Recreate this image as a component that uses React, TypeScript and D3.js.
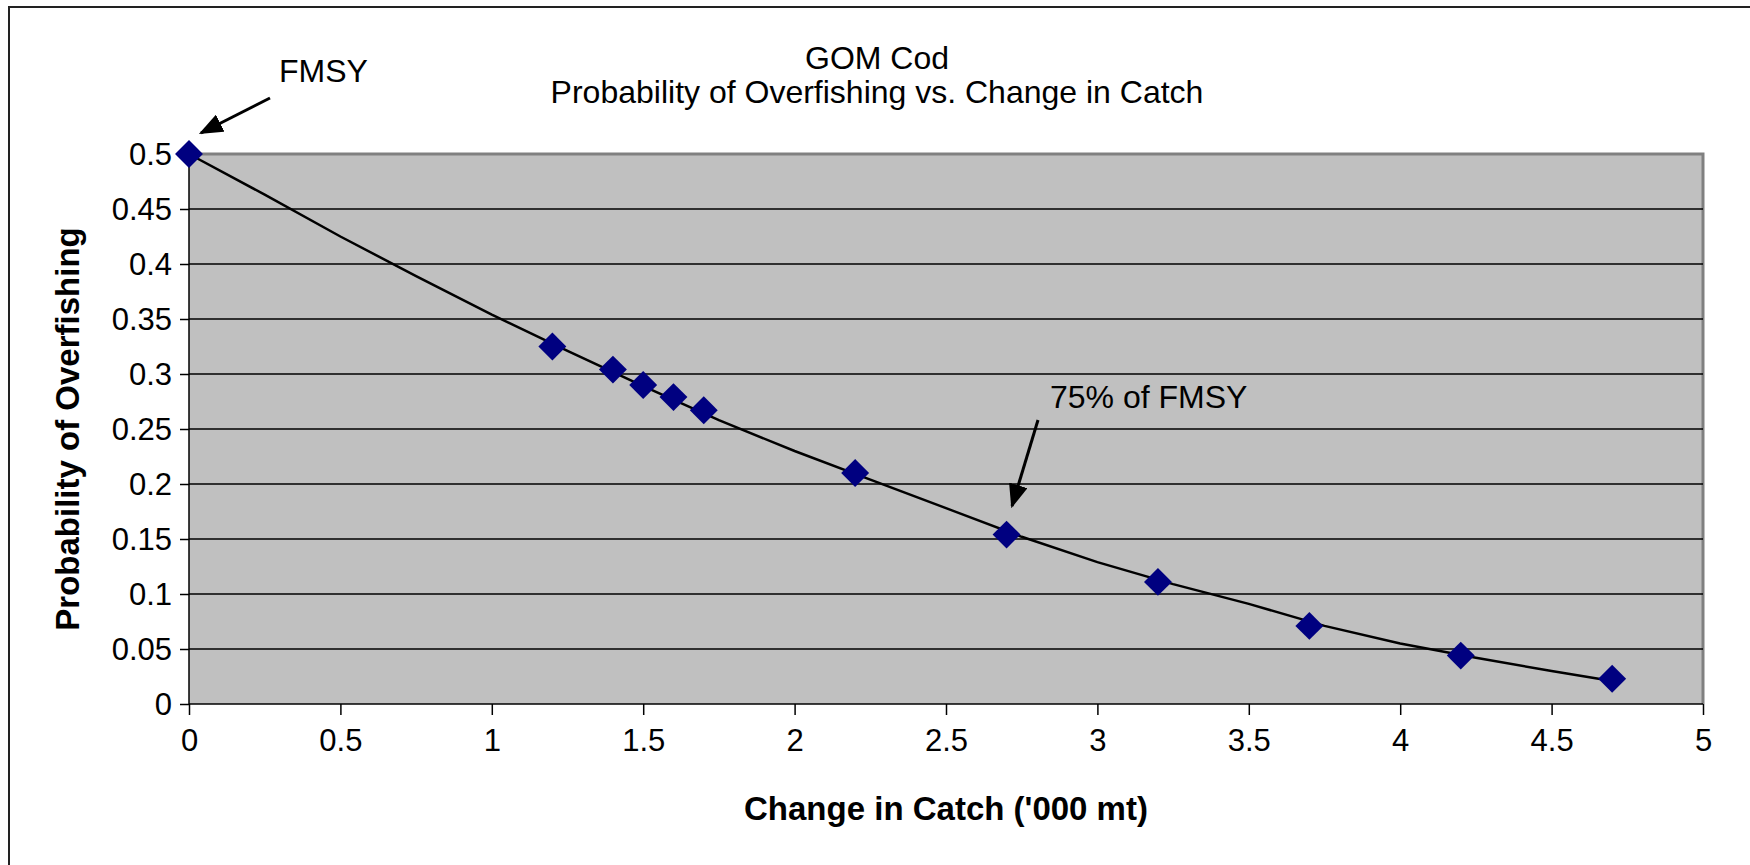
import React, { useEffect, useRef } from "react";
import * as d3 from "d3";

// scenario points (marker series)
const catchChange = [0, 1.2, 1.4, 1.5, 1.6, 1.7, 2.2, 2.7, 3.2, 3.7, 4.2, 4.7];
const probOverfish = [0.5, 0.325, 0.304, 0.29, 0.279, 0.267, 0.21, 0.154, 0.111, 0.071, 0.044, 0.023];

// fitted curve
const curveX = [0, 0.25, 0.5, 0.75, 1.0, 1.25, 1.5, 1.75, 2.0, 2.25, 2.5, 2.75, 3.0, 3.25, 3.5, 3.75, 4.0, 4.25, 4.5, 4.7];
const curveY = [0.5, 0.463, 0.425, 0.389, 0.354, 0.321, 0.289, 0.258, 0.23, 0.204, 0.178, 0.152, 0.129, 0.109, 0.091, 0.071, 0.055, 0.042, 0.03, 0.021];

const xTicks = [0, 0.5, 1, 1.5, 2, 2.5, 3, 3.5, 4, 4.5, 5];
const yTicks = [0, 0.05, 0.1, 0.15, 0.2, 0.25, 0.3, 0.35, 0.4, 0.45, 0.5];

const titleLines = ["GOM Cod", "Probability of Overfishing vs. Change in Catch"];
const xTitle = "Change in Catch ('000 mt)";
const yTitle = "Probability of Overfishing";

const FONT = "'Liberation Sans', Arial, sans-serif";

export default function App() {
  const ref = useRef<SVGSVGElement>(null);

  useEffect(() => {
    const width = 1750;
    const height = 865;
    const margin = { top: 154, right: 47, bottom: 161, left: 189 };
    const svg = d3.select(ref.current!);
    svg.selectAll("*").remove();

    // outer chart frame (runs off the right/bottom edge)
    svg.append("rect")
      .attr("x", 9).attr("y", 7)
      .attr("width", 2000).attr("height", 2000)
      .attr("fill", "#fff")
      .attr("stroke", "#222")
      .attr("stroke-width", 2);

    const x = d3.scaleLinear().domain([0, 5]).range([margin.left, width - margin.right]);
    const y = d3.scaleLinear().domain([0, 0.5]).range([height - margin.bottom, margin.top]);

    const [x0, x1] = x.range();
    const [y0, y1] = y.range();

    // plot area
    svg.append("rect")
      .attr("x", x0).attr("y", y1)
      .attr("width", x1 - x0).attr("height", y0 - y1)
      .attr("fill", "#c0c0c0");
    svg.append("path")
      .attr("d", `M${x0},${y1}H${x1}V${y0}`)
      .attr("fill", "none")
      .attr("stroke", "#808080")
      .attr("stroke-width", 3);

    // gridlines
    svg.append("g")
      .selectAll("line")
      .data(yTicks.filter(t => t > 0 && t < 0.5))
      .enter().append("line")
      .attr("x1", x0).attr("x2", x1)
      .attr("y1", d => y(d)).attr("y2", d => y(d))
      .attr("stroke", "#000")
      .attr("stroke-width", 1.5);

    // y axis
    const yAxis = svg.append("g")
      .attr("transform", `translate(${x0},0)`)
      .call(d3.axisLeft(y).tickValues(yTicks).tickSize(9).tickPadding(8).tickFormat(d => String(+d)));
    yAxis.selectAll("path, line").attr("stroke", "#000").attr("stroke-width", 1.5);
    yAxis.select(".domain").attr("d", `M0,${y0}V${y1}`);
    yAxis.selectAll("text")
      .attr("fill", "#000")
      .style("font-family", FONT)
      .style("font-size", "31px")
      .attr("dy", "0.35em");

    // x axis
    const xAxis = svg.append("g")
      .attr("transform", `translate(0,${y0})`)
      .call(d3.axisBottom(x).tickValues(xTicks).tickSize(11).tickPadding(14).tickFormat(d => String(+d)));
    xAxis.selectAll("path, line").attr("stroke", "#000").attr("stroke-width", 1.5);
    xAxis.select(".domain").attr("d", `M${x0},0H${x1}`);
    xAxis.selectAll("text")
      .attr("fill", "#000")
      .style("font-family", FONT)
      .style("font-size", "31px");

    // titles
    titleLines.forEach((t, i) => {
      svg.append("text")
        .attr("x", 877).attr("y", 69 + i * 34)
        .attr("text-anchor", "middle")
        .style("font-family", FONT)
        .style("font-size", "32px")
        .text(t);
    });
    svg.append("text")
      .attr("x", (x0 + x1) / 2).attr("y", 820)
      .attr("text-anchor", "middle")
      .style("font-family", FONT)
      .style("font-size", "33px")
      .style("font-weight", "bold")
      .text(xTitle);
    svg.append("text")
      .attr("transform", `translate(79,${(y0 + y1) / 2}) rotate(-90)`)
      .attr("text-anchor", "middle")
      .style("font-family", FONT)
      .style("font-size", "33px")
      .style("font-weight", "bold")
      .text(yTitle);

    // curve
    const curve = curveX.map((cx, i) => [cx, curveY[i]] as [number, number]);
    const line = d3.line<[number, number]>()
      .x(d => x(d[0]))
      .y(d => y(d[1]));
    svg.append("path")
      .datum(curve)
      .attr("fill", "none")
      .attr("stroke", "#000")
      .attr("stroke-width", 2.5)
      .attr("d", line);

    // diamond markers
    const pts = catchChange.map((cx, i) => [cx, probOverfish[i]] as [number, number]);
    const sym = d3.symbol().type(d3.symbolSquare).size(390);
    svg.selectAll(".pt")
      .data(pts)
      .enter().append("path")
      .attr("class", "pt")
      .attr("d", sym)
      .attr("transform", d => `translate(${x(d[0])},${y(d[1])}) rotate(45)`)
      .attr("fill", "#000080");

    // annotations
    const defs = svg.append("defs");
    defs.append("marker")
      .attr("id", "arrowhead")
      .attr("viewBox", "0 0 10 8")
      .attr("refX", 9).attr("refY", 4)
      .attr("markerWidth", 8).attr("markerHeight", 6.4)
      .attr("markerUnits", "strokeWidth")
      .attr("orient", "auto")
      .append("path")
      .attr("d", "M0,0L10,4L0,8z")
      .attr("fill", "#000");

    const notes = [
      { label: "FMSY", tx: 279, ty: 82, from: [270, 98], to: [201, 133] },
      { label: "75% of FMSY", tx: 1050, ty: 408, from: [1038, 420], to: [1012, 506] },
    ];
    notes.forEach(n => {
      svg.append("text")
        .attr("x", n.tx).attr("y", n.ty)
        .style("font-family", FONT)
        .style("font-size", "32px")
        .text(n.label);
      svg.append("line")
        .attr("x1", n.from[0]).attr("y1", n.from[1])
        .attr("x2", n.to[0]).attr("y2", n.to[1])
        .attr("stroke", "#000")
        .attr("stroke-width", 3)
        .attr("marker-end", "url(#arrowhead)");
    });
  }, []);

  return (
    <svg
      ref={ref}
      width={1750}
      height={865}
      style={{ position: "absolute", left: 0, top: 0, background: "#fff" }}
    />
  );
}
